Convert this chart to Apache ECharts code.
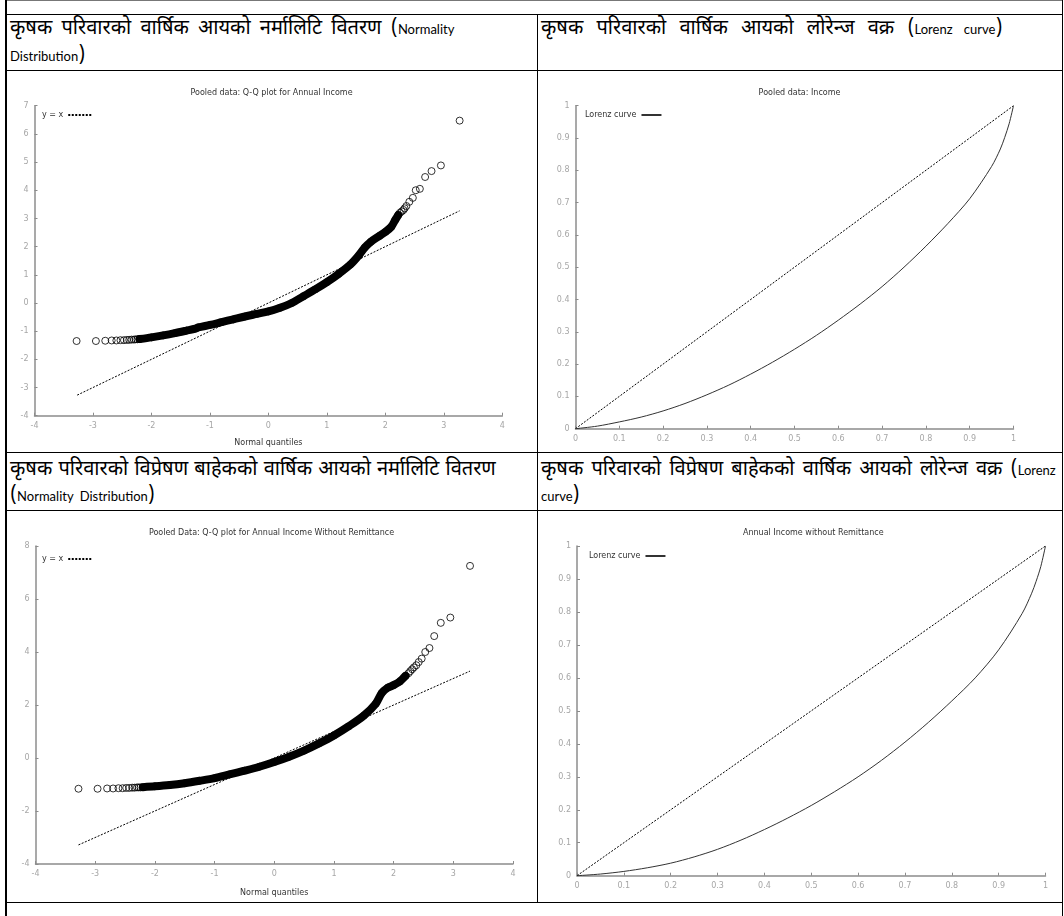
<!DOCTYPE html>
<html>
<head>
<meta charset="utf-8">
<script src="https://cdn.jsdelivr.net/npm/echarts@6/dist/echarts.min.js"></script>
<style>
body { margin: 0; background: #fff; width: 1064px; height: 916px; position: relative; overflow: hidden; }
.hl { position: absolute; height: 1px; background: #000; }
.vl { position: absolute; width: 1px; background: #000; }
.head { position: absolute; font-family: "Noto Sans Devanagari", "Lohit Devanagari", "FreeSans", "Noto Sans", sans-serif; font-size: 20px; line-height: 25px; color: #000; white-space: nowrap; }
.en { font-family: "Lato", sans-serif; font-size: 13px; }
.chart { position: absolute; }
</style>
</head>
<body>
<!-- table frame -->
<div class="hl" style="left:5px;top:0;width:1058px;background:#777"></div>
<div class="hl" style="left:6px;top:14px;width:1056px"></div>
<div class="hl" style="left:6px;top:70px;width:1056px"></div>
<div class="hl" style="left:6px;top:452px;width:1056px"></div>
<div class="hl" style="left:6px;top:510px;width:1056px"></div>
<div class="hl" style="left:6px;top:902px;width:1056px"></div>
<div class="vl" style="left:5px;top:0;height:916px;width:2px"></div>
<div class="vl" style="left:537px;top:14px;height:888px"></div>
<div class="vl" style="left:1062px;top:0;height:916px"></div>

<div class="head" style="left:10px;top:17px;word-spacing:4px">कृषक परिवारको वार्षिक आयको नर्मालिटि वितरण (<span class="en">Normality</span></div>
<div class="head" style="left:10px;top:44px"><span class="en">Distribution</span>)</div>
<div class="head" style="left:541px;top:17px;word-spacing:8px">कृषक परिवारको वार्षिक आयको लोरेन्ज वक्र (<span class="en">Lorenz curve</span>)</div>
<div class="head" style="left:10px;top:458px;word-spacing:1px">कृषक परिवारको विप्रेषण बाहेकको वार्षिक आयको नर्मालिटि वितरण</div>
<div class="head" style="left:10px;top:484px;word-spacing:3px">(<span class="en">Normality Distribution</span>)</div>
<div class="head" style="left:541px;top:458px;word-spacing:3px">कृषक परिवारको विप्रेषण बाहेकको वार्षिक आयको लोरेन्ज वक्र (<span class="en">Lorenz</span></div>
<div class="head" style="left:541px;top:484px"><span class="en">curve</span>)</div>

<div id="qq1" class="chart" style="left:7px;top:71px;width:529px;height:381px"></div>
<div id="lz1" class="chart" style="left:538px;top:71px;width:523px;height:381px"></div>
<div id="qq2" class="chart" style="left:7px;top:511px;width:529px;height:391px"></div>
<div id="lz2" class="chart" style="left:538px;top:511px;width:523px;height:391px"></div>

<script>
// Q-Q plot, pooled annual income: dense band (centre line) and the separate circles
var qq1Band = [[-2.2,-1.28],[-2.0,-1.22],[-1.8,-1.15],[-1.6,-1.07],[-1.4,-0.98],[-1.25,-0.91],[-1.2,-0.87],
    [-1.0,-0.78],[-0.8,-0.68],[-0.6,-0.58],[-0.4,-0.48],[-0.2,-0.39],[0,-0.30],[0.2,-0.17],[0.4,0.00],
    [0.6,0.24],[0.8,0.48],[1.0,0.74],[1.2,1.03],[1.4,1.36],[1.55,1.70],[1.65,1.97],[1.75,2.17],
    [1.9,2.38],[2.0,2.52],[2.1,2.70],[2.17,2.95],[2.22,3.12]];
var qq1Tail = [[-3.28,-1.35],[-2.95,-1.35],[-2.79,-1.34],[-2.68,-1.33],[-2.60,-1.33],[-2.53,-1.32],
    [-2.47,-1.32],[-2.42,-1.31],[-2.38,-1.31],[-2.34,-1.30],[-2.30,-1.30],[-2.27,-1.29],[-2.24,-1.29],
    [-2.21,-1.28],[2.25,3.20],[2.28,3.25],[2.31,3.30],[2.33,3.36],[2.36,3.44],[2.41,3.59],[2.47,3.73],
    [2.52,4.00],[2.59,4.05],[2.68,4.47],[2.79,4.68],[2.95,4.88],[3.27,6.47]];
var qq1Ref = [[-3.27,-3.27],[3.27,3.27]];

// Q-Q plot, annual income without remittance
var qq2Band = [[-2.2,-1.10],[-2.0,-1.07],[-1.75,-1.02],[-1.5,-0.95],[-1.25,-0.86],[-1.0,-0.76],
    [-0.75,-0.62],[-0.5,-0.48],[-0.25,-0.33],[0,-0.15],[0.25,0.05],[0.5,0.28],[0.75,0.55],[1.0,0.85],
    [1.25,1.20],[1.5,1.60],[1.7,2.05],[1.8,2.45],[1.9,2.65],[2.0,2.75],[2.1,2.88],[2.2,3.10]];
var qq2Tail = [[-3.28,-1.16],[-2.96,-1.16],[-2.80,-1.15],[-2.70,-1.15],[-2.61,-1.14],[-2.54,-1.14],
    [-2.48,-1.13],[-2.43,-1.13],[-2.38,-1.12],[-2.34,-1.12],[-2.30,-1.11],[-2.27,-1.11],[-2.24,-1.11],
    [2.25,3.20],[2.28,3.28],[2.31,3.35],[2.34,3.42],[2.38,3.50],[2.42,3.62],[2.47,3.75],[2.53,4.00],
    [2.60,4.15],[2.68,4.60],[2.79,5.10],[2.95,5.30],[3.28,7.25]];
var qq2Ref = [[-3.28,-3.28],[3.28,3.28]];

// Lorenz curves
var lorenzP = [0,0.05,0.1,0.15,0.2,0.25,0.3,0.35,0.4,0.45,0.5,0.55,0.6,0.65,0.7,0.75,0.8,0.85,0.9,
    0.95,0.97,0.98,0.99,1];
var lorenzIncome = [0,0.008,0.021,0.036,0.055,0.078,0.105,0.135,0.169,0.206,0.246,0.289,0.336,0.386,
    0.440,0.500,0.565,0.635,0.712,0.812,0.866,0.902,0.944,1];
var lorenzNoRemit = [0,0.005,0.013,0.024,0.038,0.057,0.080,0.108,0.140,0.175,0.213,0.255,0.300,0.350,
    0.405,0.465,0.530,0.600,0.685,0.795,0.855,0.893,0.938,1];
var equality = [[0,0],[1,1]];

var axisGray = '#8c8c8c';
var labelGray = '#a6a6a6';
var dotted = [2, 1.5];

function axisStyle(min, max, interval) {
    return {
        type: 'value',
        min: min,
        max: max,
        interval: interval,
        axisLine: { show: true, onZero: false, lineStyle: { color: axisGray, width: 1.5 } },
        axisTick: { show: true, inside: true, length: 3, lineStyle: { color: axisGray } },
        axisLabel: { color: labelGray, fontSize: 8, margin: 6, fontFamily: 'DejaVu Sans' },
        splitLine: { show: false }
    };
}

function pairs(xs, ys) {
    return xs.map(function (x, i) { return [x, ys[i]]; });
}

var noSymbol = { color: 'rgba(0,0,0,0)', borderColor: 'rgba(0,0,0,0)', borderWidth: 0 };

function qqOption(title, grid, legendTop, nameGap, yMin, yMax, yInt, band, tail, ref) {
    var x = axisStyle(-4, 4, 1);
    x.name = 'Normal quantiles';
    x.nameLocation = 'middle';
    x.nameGap = nameGap;
    x.nameTextStyle = { fontSize: 8, color: '#333', fontFamily: 'DejaVu Sans' };
    return {
        animation: false,
        title: {
            text: title, left: 'center', top: 13,
            textStyle: { fontSize: 8, fontWeight: 'normal', color: '#333', fontFamily: 'DejaVu Sans' }
        },
        legend: {
            left: 35, top: legendTop, padding: 0, align: 'right', itemWidth: 23, itemHeight: 8, itemGap: 4,
            itemStyle: noSymbol,
            textStyle: { fontSize: 8, color: '#333', fontFamily: 'DejaVu Sans' },
            data: ['y = x']
        },
        grid: grid,
        xAxis: x,
        yAxis: axisStyle(yMin, yMax, yInt),
        series: [{
            name: 'y = x',
            type: 'line',
            symbol: 'none',
            itemStyle: { color: '#000' },
            lineStyle: { color: '#000', width: 1, type: dotted },
            data: ref
        }, {
            name: 'band',
            type: 'line',
            symbol: 'none',
            smooth: 0.3,
            lineStyle: { color: '#000', width: 8, cap: 'round' },
            data: band
        }, {
            name: 'quantiles',
            type: 'scatter',
            symbol: 'circle',
            symbolSize: 7,
            itemStyle: { color: 'rgba(0,0,0,0)', borderColor: '#000', borderWidth: 1 },
            data: band.concat(tail)
        }]
    };
}

function lorenzOption(title, titleLeft, grid, legendLeft, legendTop, curve) {
    return {
        animation: false,
        title: {
            text: title, left: titleLeft, top: 13,
            textStyle: { fontSize: 8, fontWeight: 'normal', color: '#333', fontFamily: 'DejaVu Sans' }
        },
        legend: {
            left: legendLeft, top: legendTop, padding: 0, align: 'right', itemWidth: 20, itemHeight: 8, itemGap: 4,
            itemStyle: noSymbol,
            textStyle: { fontSize: 8, color: '#333', fontFamily: 'DejaVu Sans' },
            data: ['Lorenz curve']
        },
        grid: grid,
        xAxis: axisStyle(0, 1, 0.1),
        yAxis: axisStyle(0, 1, 0.1),
        series: [{
            name: 'equality',
            type: 'line',
            symbol: 'none',
            lineStyle: { color: '#000', width: 1, type: dotted },
            data: equality
        }, {
            name: 'Lorenz curve',
            type: 'line',
            symbol: 'none',
            smooth: 0.3,
            itemStyle: { color: '#333' },
            lineStyle: { color: '#333', width: 1 },
            data: pairs(lorenzP, curve)
        }]
    };
}

var chartQ1 = echarts.init(document.getElementById('qq1'));
chartQ1.setOption(qqOption('Pooled data: Q-Q plot for Annual Income',
    { left: 27.5, right: 33.7, top: 34.7, bottom: 36.3 }, 40, 23, -4, 7, 1, qq1Band, qq1Tail, qq1Ref));

var chartQ2 = echarts.init(document.getElementById('qq2'));
chartQ2.setOption(qqOption('Pooled Data: Q-Q plot for Annual Income Without Remittance',
    { left: 28.5, right: 23, top: 35, bottom: 37 }, 44, 25, -4, 8, 2, qq2Band, qq2Tail, qq2Ref));

var chartL1 = echarts.init(document.getElementById('lz1'));
chartL1.setOption(lorenzOption('Pooled data: Income', 'center',
    { left: 37.5, right: 47.5, top: 34.7, bottom: 23.3 }, 47, 40, lorenzIncome));

var chartL2 = echarts.init(document.getElementById('lz2'));
chartL2.setOption(lorenzOption('Annual Income without Remittance', 200,
    { left: 39, right: 15.5, top: 35, bottom: 26.3 }, 51, 41, lorenzNoRemit));
</script>
</body>
</html>
